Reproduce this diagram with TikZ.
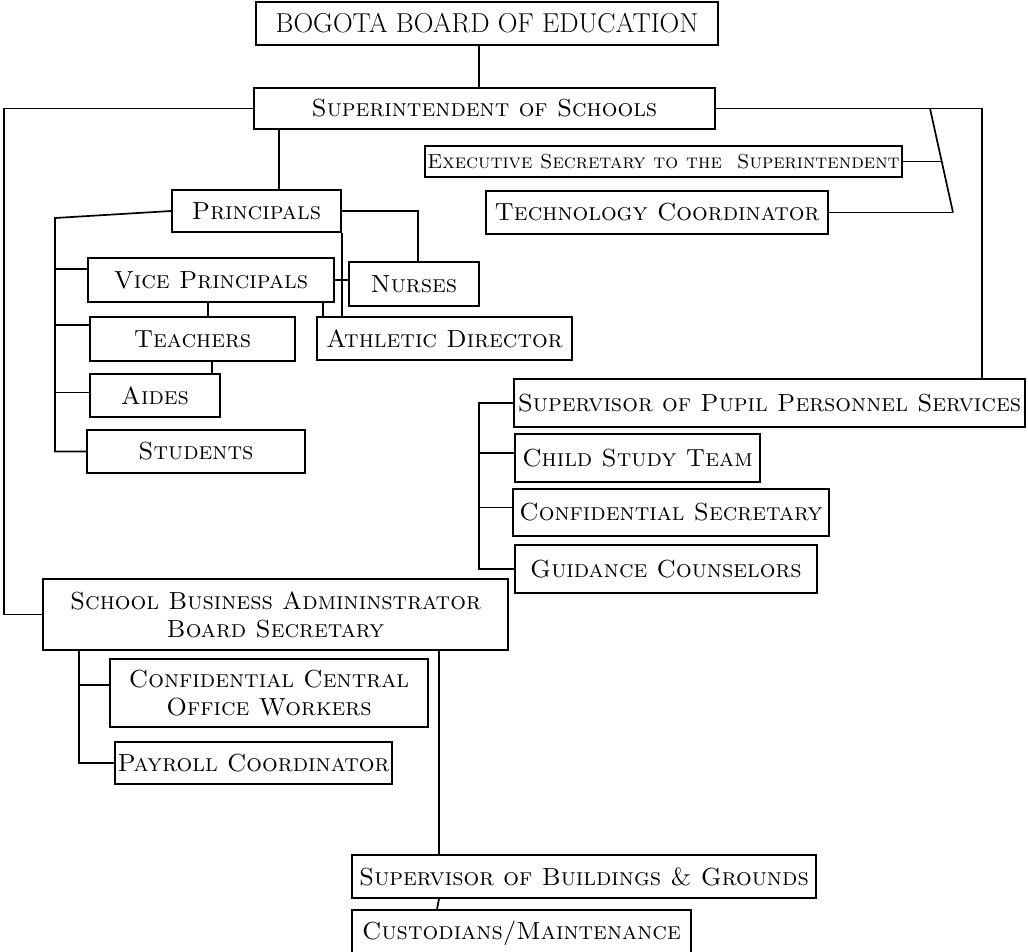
\documentclass[tikz,border=0pt]{standalone}
\usepackage{tikz}
\usetikzlibrary{positioning,calc}

\begin{document}
\begin{tikzpicture}[x=1pt,y=-1pt,line width=1.7pt,
  box/.style={draw,inner sep=0pt,align=center,font=\scshape\fontsize{24.7}{28}\selectfont},
  small/.style={font=\scshape\fontsize{20.3}{23}\selectfont}]
\useasboundingbox (0,0) rectangle (1028,951);
\node[box,font=\fontsize{27.3}{31}\selectfont,minimum width=462pt,minimum height=43pt] (board) at (487,23.5) {BOGOTA BOARD OF EDUCATION};
\node[box,minimum width=461pt,minimum height=41pt] (sup) at (484.5,108.5) {Superintendent of Schools};
\node[box,small,minimum width=477pt,minimum height=31pt] (exec) at (663.5,161.5) {Executive Secretary to the\ \ Superintendent};
\node[box,minimum width=342pt,minimum height=43pt] (tech) at (657,212.5) {Technology Coordinator};
\node[box,minimum width=169pt,minimum height=42pt] (prin) at (256.5,211) {Principals};
\node[box,minimum width=246pt,minimum height=44pt] (vp) at (211,280) {Vice Principals};
\node[box,minimum width=130pt,minimum height=44pt] (nurses) at (414,284) {Nurses};
\node[box,minimum width=205pt,minimum height=44pt] (teach) at (192.5,339) {Teachers};
\node[box,minimum width=255pt,minimum height=43pt] (ad) at (444.5,338.5) {Athletic Director};
\node[box,minimum width=130pt,minimum height=43pt] (aides) at (155,395.5) {Aides};
\node[box,minimum width=218pt,minimum height=43pt] (stud) at (196,451.5) {Students};
\node[box,minimum width=511pt,minimum height=48pt] (spps) at (769.5,403) {Supervisor of Pupil Personnel Services};
\node[box,minimum width=245pt,minimum height=48pt] (cst) at (637.5,458) {Child Study Team};
\node[box,minimum width=316pt,minimum height=47pt] (cs) at (671,512.5) {Confidential Secretary};
\node[box,minimum width=302pt,minimum height=48pt] (gc) at (666,569) {Guidance Counselors};
\node[box,minimum width=465pt,minimum height=71pt] (sba) at (275.5,614.5) {School Business Admininstrator\\Board Secretary};
\node[box,minimum width=318pt,minimum height=68pt] (ccow) at (269,693) {Confidential Central\\Office Workers};
\node[box,minimum width=277pt,minimum height=42pt] (pay) at (253.5,763) {Payroll Coordinator};
\node[box,minimum width=464pt,minimum height=43pt] (sbg) at (584,876.5) {Supervisor of Buildings \& Grounds};
\node[box,minimum width=339pt,minimum height=46pt] (cust) at (521.5,933) {Custodians/Maintenance};
\draw (board.south -| 479,0) -- (sup.north -| 479,0);
\draw (sup.west) -- (sup.west -| 4,0) |- (sba.west);
\draw (sup.east) -- (sup.east -| 982,0) -- (spps.north -| 982,0);
\draw (sup.east -| 930,0) -- (tech.east -| 953,0);
\draw (exec.east) -- (exec.east -| 941,0);
\draw (tech.east) -- (tech.east -| 953,0);
\draw (sup.south -| 279,0) -- (prin.north -| 279,0);
\draw (prin.west) -- (55,218) -- (stud.west -| 55,0) -- (stud.west);
\foreach \n/\s in {vp/11,teach/14,aides/3}
  \draw ([yshift=\s pt]\n.west -| 55,0) -- ([yshift=\s pt]\n.west);
\draw (vp.south -| 208,0) -- (teach.north -| 208,0);
\draw (teach.south -| 212,0) -- (aides.north -| 212,0);
\draw (vp.south -| 323,0) -- (ad.north -| 323,0);
\draw (prin.south east) -- (ad.north -| prin.east);
\draw (prin.east) -| ([xshift=4pt]nurses.north);
\draw (vp.east) -- (vp.east -| nurses.west);
\draw (spps.west) -- (spps.west -| 479,0) -- (gc.west -| 479,0) -- (gc.west);
\foreach \n/\s in {cst/5,cs/5}
  \draw ([yshift=\s pt]\n.west -| 479,0) -- ([yshift=\s pt]\n.west);
\draw (sba.south -| 79,0) -- (pay.west -| 79,0) -- (pay.west);
\draw ([yshift=8pt]ccow.west -| 79,0) -- ([yshift=8pt]ccow.west);
\draw (sba.south -| 439,0) -- (sbg.north -| 439,0);
\draw (sbg.south -| 439,0) -- (cust.north -| 437,0);
\end{tikzpicture}
\end{document}
